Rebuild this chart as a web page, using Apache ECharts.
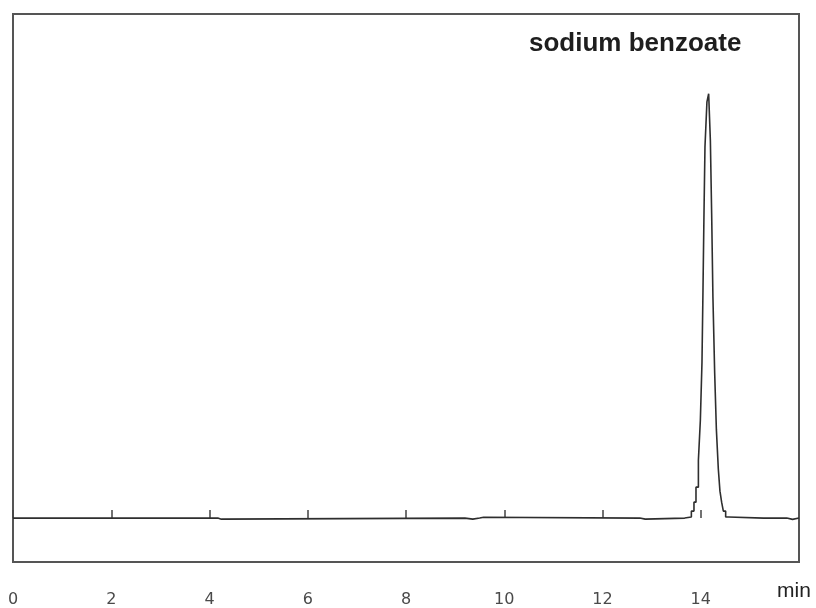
<!DOCTYPE html>
<html>
<head>
<meta charset="utf-8">
<script src="https://cdn.jsdelivr.net/npm/echarts@6/dist/echarts.min.js"></script>
<style>
  html, body { margin: 0; padding: 0; background: #ffffff; }
  #chart { width: 816px; height: 608px; }
</style>
</head>
<body>
<div id="chart"></div>
<script>
// Chromatogram trace: retention time (min) and detector response (relative units).
// Each point holds its level until the next time (stepped detector output).
const timeMin = [
  0, 4.17, 4.24, 9.20, 9.36, 9.50, 9.53, 9.58, 12.76, 12.87,
  13.673, 13.809, 13.862, 13.903, 13.952, 13.992, 14.025, 14.045, 14.065, 14.086,
  14.126, 14.161, 14.196, 14.222, 14.248, 14.283, 14.318, 14.358, 14.391, 14.425,
  14.460, 14.507, 14.568, 15.28, 15.30, 15.40, 15.42, 15.75, 15.87, 16
];
const response = [
  0, -0.25, 0, -0.25, 0, -0.25, 0.2, 0, -0.25, 0,
  0.24, 1.65, 3.76, 7.29, 13.65, 23.06, 36.7, 53.4, 71.1, 87.5,
  98.1, 100, 88.9, 71.8, 52.0, 34.4, 20.9, 11.5, 6.35, 3.76,
  1.65, 0.24, 0, -0.25, 0, -0.25, 0, -0.3, 0, 0
];
const xTicks = [0, 2, 4, 6, 8, 10, 12, 14];
const peakName = 'sodium benzoate';
const xUnit = 'min';

const trace = timeMin.map((t, i) => [t, response[i]]);

const chart = echarts.init(document.getElementById('chart'), null, { renderer: 'canvas' });
chart.setOption({
  animation: false,
  backgroundColor: '#ffffff',
  title: {
    text: peakName,
    left: 524,
    top: 26,
    textStyle: { fontFamily: 'Liberation Sans', fontWeight: 'bold', fontSize: 26, color: '#1e1e1e' }
  },
  grid: {
    left: 13, top: 14, width: 786, height: 549,
    show: true, borderColor: '#555555', borderWidth: 2, backgroundColor: 'transparent'
  },
  xAxis: {
    type: 'value',
    min: 0, max: 16, interval: 2,
    axisLine: { show: false },
    splitLine: { show: false },
    axisTick: { show: true, inside: true, length: 8, lineStyle: { color: '#444444', width: 1.5 } },
    axisLabel: {
      show: true, margin: 30, showMaxLabel: false,
      fontFamily: 'DejaVu Sans', fontSize: 16, color: '#4a4a4a',
      formatter: v => (xTicks.indexOf(v) >= 0 ? String(v) : '')
    }
  },
  yAxis: {
    type: 'value',
    min: -10.35, max: 118.8,
    show: false
  },
  graphic: [{
    type: 'text',
    left: 777, top: 581,
    style: { text: xUnit, fontFamily: 'Liberation Sans', fontSize: 21, fill: '#222222' }
  }],
  series: [{
    type: 'line',
    step: 'end',
    data: trace,
    showSymbol: false,
    lineStyle: { color: '#2e2e2e', width: 1.6 }
  }]
});
</script>
</body>
</html>
